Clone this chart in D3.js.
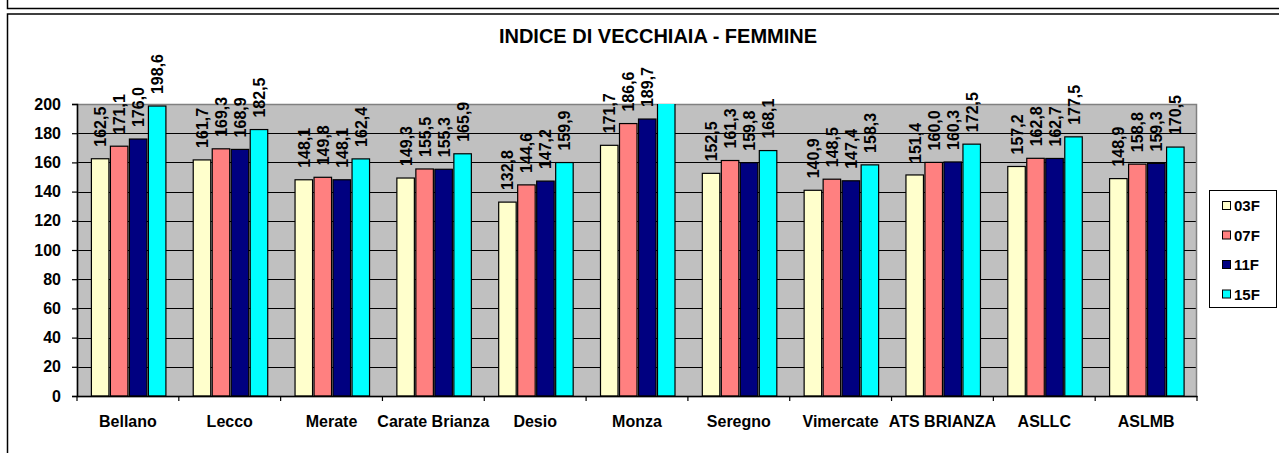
<!DOCTYPE html>
<html>
<head>
<meta charset="utf-8">
<script src="https://cdn.jsdelivr.net/npm/d3@7"></script>
<style>
  body { margin: 0; background: #fff; }
  svg { display: block; font-family: "Liberation Sans", Arial, sans-serif; font-weight: bold; }
</style>
</head>
<body>
<script>
var categories = ["Bellano", "Lecco", "Merate", "Carate Brianza", "Desio", "Monza",
    "Seregno", "Vimercate", "ATS BRIANZA", "ASLLC", "ASLMB"];
var seriesNames = ["03F", "07F", "11F", "15F"];
var colors = ["#FFFFCC", "#FF8080", "#000080", "#00FFFF"];

var v03F = [162.5, 161.7, 148.1, 149.3, 132.8, 171.7, 152.5, 140.9, 151.4, 157.2, 148.9];
var v07F = [171.1, 169.3, 149.8, 155.5, 144.6, 186.6, 161.3, 148.5, 160.0, 162.8, 158.8];
var v11F = [176.0, 168.9, 148.1, 155.3, 147.2, 189.7, 159.8, 147.4, 160.3, 162.7, 159.3];
var v15F = [198.6, 182.5, 162.4, 165.9, 159.9, 205.0, 168.1, 158.3, 172.5, 177.5, 170.5];
var yTicks = [0, 20, 40, 60, 80, 100, 120, 140, 160, 180, 200];

var title = "INDICE DI VECCHIAIA  - FEMMINE";

var width = 1279, height = 453;
var plotL = 77, plotR = 1197, plotT = 104, plotB = 396;

var svg = d3.select("body").append("svg")
    .attr("width", width)
    .attr("height", height);

// frames
svg.append("rect").attr("x", 7.5).attr("y", -10).attr("width", 1300).attr("height", 18.5)
    .attr("fill", "none").attr("stroke", "#000").attr("stroke-width", 1.5);
svg.append("rect").attr("x", 7.5).attr("y", 14).attr("width", 1300).attr("height", 500)
    .attr("fill", "none").attr("stroke", "#000").attr("stroke-width", 1.5);

svg.append("text")
    .attr("x", 658).attr("y", 43)
    .attr("text-anchor", "middle")
    .style("font-size", "20px")
    .text(title);

var x0 = d3.scaleBand().domain(categories).range([plotL, plotR]).padding(0);
var x1 = d3.scaleBand().domain(seriesNames).range([0, 76]).padding(0);
var y = d3.scaleLinear().domain([0, 200]).range([plotB, plotT]);

var rows = categories.map(function (c, i) {
    return {cat: c, vals: [v03F[i], v07F[i], v11F[i], v15F[i]]};
});

// plot background
svg.append("rect")
    .attr("x", plotL).attr("y", plotT)
    .attr("width", plotR - plotL).attr("height", plotB - plotT)
    .attr("fill", "#C0C0C0");

// gridlines
svg.append("g").selectAll("line")
    .data(yTicks.filter(function (d) { return d > 0 && d < 200; }))
    .enter().append("line")
    .attr("x1", plotL).attr("x2", plotR)
    .attr("y1", function (d) { return Math.round(y(d)) + 0.5; })
    .attr("y2", function (d) { return Math.round(y(d)) + 0.5; })
    .attr("stroke", "#000").attr("stroke-width", 1.2);

// plot border
svg.append("rect")
    .attr("x", plotL + 0.5).attr("y", plotT + 0.5)
    .attr("width", plotR - plotL - 1).attr("height", plotB - plotT)
    .attr("fill", "none").attr("stroke", "#808080").attr("stroke-width", 1.5);

svg.append("clipPath").attr("id", "plotclip")
    .append("rect").attr("x", plotL).attr("y", plotT)
    .attr("width", plotR - plotL).attr("height", plotB - plotT);

var groups = svg.append("g").attr("clip-path", "url(#plotclip)")
    .selectAll("g").data(rows).enter().append("g")
    .attr("transform", function (d) {
        return "translate(" + (x0(d.cat) + (x0.bandwidth() - 76) / 2 + 1) + ",0)";
    });

groups.selectAll("rect")
    .data(function (d) { return d.vals; })
    .enter().append("rect")
    .attr("x", function (d, i) { return x1(seriesNames[i]) + 0.5; })
    .attr("y", function (d) { return y(d); })
    .attr("width", x1.bandwidth() - 1.5)
    .attr("height", function (d) { return plotB - y(d); })
    .attr("fill", function (d, i) { return colors[i]; })
    .attr("stroke", "#000").attr("stroke-width", 1.2);

// value labels
var labels = svg.append("g");
rows.forEach(function (r) {
    var gx = x0(r.cat) + (x0.bandwidth() - 76) / 2 + 1;
    r.vals.forEach(function (v, i) {
        if (v > 200) return;
        var cx = gx + x1(seriesNames[i]) + x1.bandwidth() / 2;
        var cy = y(v) - 12;
        labels.append("text")
            .attr("transform", "translate(" + cx + "," + cy + ") rotate(-90)")
            .attr("dy", "0.36em")
            .style("font-size", "16px")
            .text(d3.format(".1f")(v).replace(".", ","));
    });
});

// y axis
var yAxis = svg.append("g")
    .attr("transform", "translate(" + plotL + ",0)")
    .call(d3.axisLeft(y).tickValues(yTicks).tickSize(5).tickPadding(11));
yAxis.select(".domain").attr("stroke", "#000").attr("stroke-width", 1.5);
yAxis.selectAll("line").attr("stroke", "#000").attr("stroke-width", 1.2);
yAxis.selectAll("text").style("font-size", "16px").style("font-weight", "bold")
    .style("font-family", "Liberation Sans, Arial, sans-serif").attr("fill", "#000");

// x axis
var xAxis = svg.append("g")
    .attr("transform", "translate(0," + plotB + ")")
    .call(d3.axisBottom(x0).tickSize(0).tickPadding(20));
xAxis.select(".domain").attr("stroke", "#000").attr("stroke-width", 1.5);
xAxis.selectAll("text").style("font-size", "16px").style("font-weight", "bold")
    .style("font-family", "Liberation Sans, Arial, sans-serif").attr("fill", "#000");
xAxis.selectAll(".bound").data(categories.concat([null])).enter().append("line")
    .attr("x1", function (d, i) { return plotL + i * x0.step(); })
    .attr("x2", function (d, i) { return plotL + i * x0.step(); })
    .attr("y1", 0).attr("y2", 5)
    .attr("stroke", "#000").attr("stroke-width", 1.2);

// legend
var legend = svg.append("g");
legend.append("rect")
    .attr("x", 1209.5).attr("y", 190.5).attr("width", 67).attr("height", 117)
    .attr("fill", "#fff").attr("stroke", "#000").attr("stroke-width", 1);
seriesNames.forEach(function (s, i) {
    var ly = 206 + i * 29.5;
    legend.append("rect")
        .attr("x", 1222.5).attr("y", ly - 4.5).attr("width", 8).attr("height", 8)
        .attr("fill", colors[i]).attr("stroke", "#000").attr("stroke-width", 1);
    legend.append("text")
        .attr("x", 1234).attr("y", ly).attr("dy", "0.36em")
        .style("font-size", "15px")
        .text(s);
});
</script>
</body>
</html>
